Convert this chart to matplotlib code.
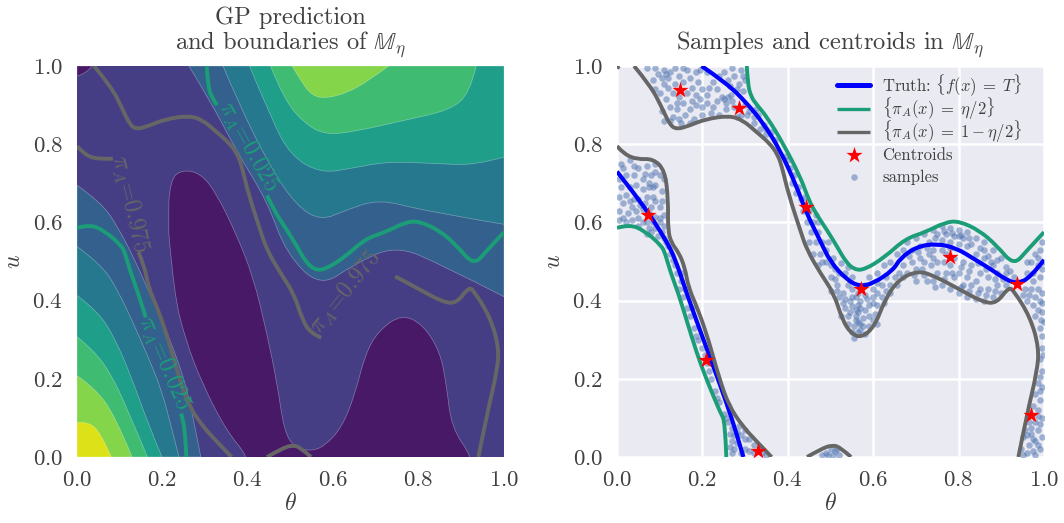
import matplotlib
matplotlib.use("Agg")
import matplotlib.pyplot as plt
import numpy as np
from matplotlib.path import Path
from matplotlib.patches import PathPatch

plt.rcParams['font.family'] = ['cmr10', 'DejaVu Serif']
plt.rcParams['mathtext.fontset'] = 'cm'
plt.rcParams['axes.formatter.use_mathtext'] = True
plt.rcParams['axes.unicode_minus'] = False

TEXT = "#404040"
GREEN = "#1b9e77"
GRAY = "#666666"

band_colors = ["#481967", "#453e85", "#34608d", "#26788e", "#1f9e89", "#40bc72", "#85d54a", "#dde218"]

# boundaries of the filled bands, lower left family (left edge to bottom edge)
low_2 = [(0, .695), (.056, .652), (.096, .588), (.136, .503), (.167, .426), (.199, .349), (.231, .263), (.259, .169), (.278, .067), (.29, 0)]
low_3 = [(0, .538), (.056, .494), (.096, .426), (.136, .332), (.167, .255), (.199, .169), (.223, .067), (.239, 0)]
low_4 = [(0, .413), (.048, .374), (.088, .306), (.128, .203), (.167, .084), (.199, 0)]
low_5 = [(0, .308), (.04, .272), (.08, .212), (.12, .118), (.165, 0)]
low_6 = [(0, .208), (.04, .178), (.088, .109), (.129, 0)]
low_7 = [(0, .088), (.025, .091), (.056, .062), (.08, 0)]

# upper right family (top edge to right edge)
up_2 = [(.262, 1), (.31, .915), (.38, .77), (.445, .655), (.49, .52), (.57, .434), (.65, .494), (.746, .541), (.85, .494), (1, .41)]
up_3 = [(.342, 1), (.374, .915), (.453, .74), (.516, .64), (.572, .605), (.627, .63), (.707, .66), (.81, .63), (1, .595)]
up_4 = [(.404, 1), (.453, .87), (.5, .77), (.572, .725), (.65, .74), (.73, .756), (.85, .75), (.93, .746), (1, .767)]
up_5 = [(.453, 1), (.485, .914), (.532, .854), (.58, .824), (.65, .832), (.77, .862), (.873, .887), (.92, .93), (.935, 1)]
up_6 = [(.504, 1), (.525, .96), (.55, .925), (.58, .917), (.63, .93), (.68, .96), (.73, 1)]

# dark blobs
dark_corner = [(0, .974), (.02, .98), (.036, 1)]
dark_blob = [(.215, .65), (.218, .71), (.247, .735), (.29, .725), (.326, .675), (.373, .57), (.413, .46), (.445, .315), (.469, .186), (.485, .067), (.509, .024), (.548, .015), (.58, .028), (.62, .075), (.651, .16), (.675, .263), (.706, .323), (.76, .365), (.81, .339), (.85, .27), (.865, .186), (.877, .075), (.925, 0),
             (.925, -.05), (.401, -.05), (.401, 0), (.35, .067), (.294, .186), (.255, .297), (.227, .417), (.215, .573)]

# decision boundaries, split where the left panel has an inline label
gray_a1 = [(.04, 1), (.08, .947), (.104, .896), (.124, .849), (.14, .838), (.168, .847), (.207, .864), (.262, .873), (.294, .862), (.326, .832), (.357, .803), (.377, .773), (.388, .735), (.401, .675), (.429, .58), (.445, .529), (.477, .469), (.508, .418), (.528, .35), (.548, .316), (.572, .305)]
gray_a2 = [(.603, .333), (.627, .401), (.658, .453), (.705, .477)]
gray_a3 = [(.745, .462), (.80, .43), (.857, .396), (.889, .393), (.917, .434), (.929, .426), (.968, .357), (.988, .28), (.984, .22), (.96, .109), (.94, 0)]
gray_b1 = [(0, .795), (.017, .774), (.048, .761), (.084, .763)]
gray_b2 = [(.112, .734), (.12, .657), (.119, .58), (.128, .546)]
gray_b3 = [(.144, .524), (.159, .485), (.167, .434), (.191, .374), (.215, .297), (.239, .203), (.262, .131), (.294, .079), (.326, .041), (.362, 0)]
gray_c = [(.445, 0), (.477, .02), (.504, .031), (.524, .024), (.548, 0)]
gray_d = [(0, .994), (.005, 1)]

green_a1 = [(.304, 1), (.306, .956), (.314, .921), (.328, .9)]
green_a2 = [(.351, .87), (.389, .802), (.429, .717)]
green_a3 = [(.445, .669), (.461, .631), (.492, .58), (.516, .537), (.536, .499), (.556, .479), (.58, .479), (.627, .511), (.675, .558), (.722, .575), (.77, .601), (.802, .603), (.849, .579), (.889, .541), (.929, .49), (.96, .528), (1, .575)]
green_b1 = [(0, .586), (.029, .595), (.064, .579), (.104, .541), (.113, .52), (.124, .477), (.144, .417), (.161, .357)]
green_b2 = [(.187, .265), (.21, .197)]
green_b3 = [(.243, .111), (.253, .091), (.256, 0)]

truth_a = [(.198, 1), (.257, .956), (.304, .905), (.343, .853), (.382, .785), (.421, .691), (.444, .623), (.475, .555), (.499, .5), (.538, .453), (.569, .436), (.6, .444), (.647, .478), (.663, .508), (.702, .538), (.749, .546), (.795, .534), (.834, .508), (.873, .482), (.912, .453), (.936, .444), (.967, .457), (1, .504)]
truth_b = [(0, .73), (.046, .666), (.085, .606), (.116, .551), (.136, .508), (.163, .419), (.194, .325), (.226, .231), (.257, .137), (.28, .06), (.296, 0)]

centroid_theta = [.148, .286, .073, .443, .572, .78, .937, .208, .33, .97]
centroid_u = [.939, .893, .619, .64, .43, .511, .442, .248, .015, .107]

samples_top = [(.07, .995), (.09, .995), (.11, .99), (.115, .98), (.135, .995), (.155, .995), (.165, .99), (.105, .97), (.12, .945), (.155, .96), (.175, .945), (.085, .965), (.185, .90), (.17, .89), (.14, .89), (.13, .87), (.16, .875), (.145, .92), (.115, .915), (.125, .895), (.2, .94), (.225, .96), (.25, .985), (.27, .995), (.29, .99), (.21, .925), (.225, .895), (.22, .88), (.245, .92), (.25, .915), (.28, .94), (.295, .935), (.285, .955), (.265, .95), (.235, .94), (.2, .875), (.255, .89), (.305, .875), (.32, .855), (.335, .84), (.35, .825), (.31, .885), (.09, .94), (.1, .93), (.195, .915), (.21, .905), (.24, .875), (.27, .91), (.3, .9), (.33, .875), (.345, .85), (.36, .83), (.37, .81), (.105, .885), (.11, .86), (.15, .855), (.18, .865),
               (.095, .98), (.125, .985), (.12, .97), (.145, .975), (.17, .97), (.185, .985), (.19, .96), (.135, .955), (.11, .955), (.165, .93), (.185, .925), (.13, .93), (.155, .905), (.14, .905), (.175, .91), (.2, .895), (.235, .91), (.255, .905), (.26, .92), (.268, .925), (.275, .895), (.29, .875), (.215, .945), (.24, .975), (.26, .965), (.3, .965), (.295, .975), (.275, .975), (.21, .985), (.195, .99), (.17, .855), (.145, .865), (.125, .86), (.28, .87), (.32, .87), (.325, .89), (.35, .84)]
samples_left = [(.01, .75), (.03, .76), (.05, .74), (.07, .745), (.09, .75), (.1, .72), (.08, .72), (.06, .71), (.04, .72), (.02, .72), (.01, .69), (.03, .69), (.06, .685), (.075, .69), (.09, .695), (.105, .68), (.085, .665), (.07, .665), (.05, .66), (.03, .655), (.015, .65), (.005, .63), (.025, .625), (.045, .63), (.06, .635), (.08, .64), (.1, .64), (.11, .62), (.09, .615), (.07, .6), (.05, .61), (.035, .605), (.015, .61), (.05, .59), (.075, .585), (.09, .585), (.1, .6), (.11, .59), (.11, .56), (.095, .565), (.07, .57), (.12, .54),
                (.005, .71), (.015, .74), (.04, .745), (.065, .725), (.09, .73), (.11, .71), (.075, .70), (.085, .69), (.045, .695), (.02, .67), (.035, .64), (.055, .645), (.065, .65), (.04, .66), (.005, .665), (.09, .655), (.105, .655), (.075, .625), (.1, .61), (.02, .6), (.005, .605), (.06, .6), (.085, .6), (.08, .575), (.105, .575), (.115, .55)]
samples_strip = [(.125, .52), (.135, .49), (.14, .47), (.15, .45), (.145, .43), (.155, .41), (.165, .38), (.17, .36), (.18, .33), (.19, .30), (.2, .28), (.205, .26), (.215, .22), (.22, .2), (.23, .17), (.24, .14), (.25, .11), (.26, .09), (.13, .505), (.15, .47), (.16, .43), (.175, .38), (.185, .31), (.21, .24), (.235, .15), (.255, .1)]
samples_foot = [(.265, .06), (.27, .04), (.275, .02), (.28, .035), (.29, .055), (.27, .075), (.285, .08), (.3, .07), (.31, .045), (.32, .03), (.3, .02), (.31, .015), (.34, .01), (.335, .025), (.29, .01), (.28, .065), (.35, .005), (.265, .025), (.275, .055), (.3, .045), (.32, .01), (.27, .01)]
samples_center = [(.395, .77), (.405, .74), (.41, .70), (.42, .675), (.43, .66), (.435, .63), (.445, .6), (.46, .6), (.455, .575), (.47, .575), (.465, .55), (.48, .55), (.475, .52), (.49, .53), (.49, .5), (.505, .51), (.51, .48), (.525, .495), (.535, .47), (.55, .46),
                  (.4, .76), (.415, .72), (.425, .69), (.44, .665), (.45, .63), (.465, .62), (.47, .6), (.45, .55), (.46, .52), (.47, .49), (.48, .5), (.495, .55), (.5, .49), (.52, .47), (.51, .455), (.54, .485)]
samples_lobe = [(.5, .46), (.515, .44), (.5, .425), (.52, .41), (.53, .42), (.545, .4), (.56, .41), (.58, .415), (.6, .41), (.62, .41), (.61, .39), (.59, .39), (.57, .38), (.55, .385), (.535, .38), (.525, .36), (.54, .36), (.56, .36), (.575, .355), (.59, .36), (.605, .365), (.61, .34), (.59, .335), (.57, .34), (.555, .335), (.54, .34), (.55, .32), (.565, .32), (.58, .315), (.555, .305), (.565, .345), (.57, .325), (.56, .375), (.58, .44), (.6, .43), (.62, .44), (.64, .44), (.65, .46), (.63, .46), (.66, .47), (.63, .425), (.54, .44), (.55, .43),
                (.515, .425), (.535, .405), (.55, .41), (.57, .4), (.585, .405), (.6, .395), (.565, .37), (.58, .375), (.545, .37), (.56, .35), (.575, .335), (.6, .35), (.53, .395), (.565, .39), (.61, .42), (.625, .395), (.64, .42), (.655, .44), (.67, .46), (.61, .445), (.565, .42)]
samples_hump = [(.59, .46), (.61, .47), (.625, .49), (.64, .5), (.655, .52), (.67, .53), (.68, .55), (.7, .56), (.72, .57), (.74, .58), (.76, .59), (.78, .585), (.8, .58), (.82, .575), (.84, .56), (.86, .55), (.88, .53), (.9, .51),
                (.68, .47), (.7, .45), (.72, .465), (.74, .45), (.76, .44), (.78, .43), (.8, .42), (.82, .41), (.84, .405), (.86, .4), (.88, .41), (.9, .42), (.91, .44),
                (.67, .49), (.69, .5), (.71, .51), (.73, .52), (.75, .5), (.77, .52), (.79, .51), (.81, .5), (.83, .49), (.85, .47), (.87, .46), (.89, .47), (.91, .47), (.93, .46), (.7, .48), (.72, .5), (.74, .53), (.76, .555), (.78, .55), (.8, .545), (.82, .54), (.84, .52), (.86, .51), (.88, .49), (.75, .47), (.77, .47), (.79, .46), (.81, .44), (.83, .44), (.85, .43), (.87, .43), (.89, .44), (.78, .49), (.8, .47), (.82, .46), (.84, .45), (.69, .53), (.71, .54), (.73, .55), (.75, .57), (.77, .57), (.79, .565), (.81, .56), (.83, .545), (.85, .535), (.87, .515), (.89, .505), (.91, .485), (.92, .475),
                (.685, .515), (.705, .525), (.725, .535), (.745, .56), (.765, .578), (.785, .572), (.805, .567), (.825, .56), (.765, .5), (.785, .47), (.805, .485), (.825, .475), (.845, .495), (.865, .48), (.885, .455), (.905, .455), (.735, .49), (.715, .48), (.695, .465), (.725, .45), (.745, .435), (.765, .455), (.805, .435), (.825, .425), (.845, .42), (.865, .415), (.885, .425), (.8, .565), (.78, .535), (.76, .53), (.74, .51), (.86, .53), (.875, .5)]
samples_right = [(.97, .5), (.98, .52), (.99, .53), (.995, .55), (.985, .49), (.995, .48), (.96, .47), (.975, .47), (.99, .46), (.955, .43), (.97, .43), (.985, .43), (.995, .42), (.96, .40), (.975, .39), (.99, .4), (.98, .36), (.995, .37), (.99, .33), (1.0, .345), (.995, .31), (.995, .28), (.99, .25), (.995, .22), (.985, .19), (.995, .18), (.98, .16), (.99, .145), (.975, .13), (.985, .12), (.965, .09), (.98, .09), (.995, .1), (.955, .07), (.97, .06), (.985, .07), (.95, .05), (.965, .03), (.98, .04), (.995, .05), (.945, .02), (.96, .01), (.975, .015), (.99, .02), (.95, .005), (.98, .005), (.97, .075), (.985, .03),
                 (.965, .415), (.98, .41), (.995, .395), (.985, .375), (.95, .415), (.975, .45), (.985, .51), (.96, .5), (.998, .5), (.993, .35), (.998, .26), (.99, .205), (.99, .17), (.985, .105), (.96, .055), (.975, .045), (.99, .085)]
samples_bump = [(.49, .01), (.5, .02), (.51, .015), (.52, .005), (.505, .005), (.48, .005), (.495, .005), (.515, .02)]

ticks = [0.0, 0.2, 0.4, 0.6, 0.8, 1.0]

legend_labels = [r"Truth: $\{f(x)\;=\;T\}$", r"$\{\pi_A(x)\;=\;\eta/2\}$", r"$\{\pi_A(x)\;=\;1-\eta/2\}$", "Centroids", "samples"]
legend_rows = [.951, .89, .831, .772, .716]


#Build a path that rounds the corners of a list of points, optional straight corners closing it.
def curvePath(points, corners=None, closed=False):
    pts = np.array(points, dtype=float)
    verts = [pts[0]]
    codes = [Path.MOVETO]
    for i in range(1, len(pts) - 1):
        end = pts[i + 1] if i == len(pts) - 2 else (pts[i] + pts[i + 1]) / 2
        verts += [pts[i], end]
        codes += [Path.CURVE3, Path.CURVE3]
    if len(pts) == 2:
        verts.append(pts[1])
        codes.append(Path.LINETO)
    if corners:
        for c in corners:
            verts.append(c)
            codes.append(Path.LINETO)
    if closed:
        verts.append(pts[0])
        codes.append(Path.CLOSEPOLY)
    return Path(verts, codes)


def drawLine(ax, points, color, lw, zorder=3):
    ax.add_patch(PathPatch(curvePath(points), facecolor="none", edgecolor=color, lw=lw, zorder=zorder, capstyle="butt", joinstyle="round"))


def drawBand(ax, points, color, corners):
    ax.add_patch(PathPatch(curvePath(points, corners, True), facecolor=color, edgecolor=(1, 1, 1, .35), lw=.5, zorder=1))


def setupAxes(ax, title):
    ax.set_xlim(0, 1)
    ax.set_ylim(0, 1)
    ax.set_xticks(ticks)
    ax.set_yticks(ticks)
    ax.tick_params(length=0, labelsize=16.5, colors=TEXT, pad=10)
    ax.set_xlabel(r"$\theta$", fontsize=17, color=TEXT, labelpad=2)
    ax.set_ylabel(r"$u$", fontsize=17, color=TEXT, labelpad=5)
    ax.set_title(title, fontsize=17.6, color=TEXT, pad=12, linespacing=1.0)
    for s in ax.spines.values():
        s.set_visible(False)


fig = plt.figure(figsize=(10.64, 5.23), dpi=100)
axLeft = fig.add_axes([77 / 1064, 66 / 523, 427 / 1064, 391 / 523])
axRight = fig.add_axes([617 / 1064, 66 / 523, 427 / 1064, 391 / 523])

# left panel
axLeft.set_facecolor(band_colors[1])
setupAxes(axLeft, "GP prediction\n" + r"and boundaries of $\mathbb{M}_\eta$")
for boundary, color in zip([low_2, low_3, low_4, low_5, low_6, low_7], band_colors[2:]):
    drawBand(axLeft, boundary, color, [(0, 0)])
for boundary, color in zip([up_2, up_3, up_4], band_colors[2:5]):
    drawBand(axLeft, boundary, color, [(1, 1)])
drawBand(axLeft, up_5, band_colors[5], [])
drawBand(axLeft, up_6, band_colors[6], [])
drawBand(axLeft, dark_corner, band_colors[0], [(0, 1)])
drawBand(axLeft, dark_blob, band_colors[0], [])

for segment in [gray_a1, gray_a3, gray_b1, gray_b3, gray_c]:
    drawLine(axLeft, segment, GRAY, 2.8)
for segment in [green_a1, green_a3, green_b1, green_b3]:
    drawLine(axLeft, segment, GREEN, 2.8)

label975 = r"$\pi_A$=0.975"
label025 = r"$\pi_A$=0.025"
axLeft.text(.124, .648, label975, color=GRAY, fontsize=17, rotation=-77, ha="center", va="center", zorder=4)
axLeft.text(.629, .421, label975, color=GRAY, fontsize=17, rotation=51, ha="center", va="center", zorder=4)
axLeft.text(.401, .793, label025, color=GREEN, fontsize=17, rotation=-61, ha="center", va="center", zorder=4)
axLeft.text(.205, .239, label025, color=GREEN, fontsize=17, rotation=-67, ha="center", va="center", zorder=4)

# right panel
axRight.set_facecolor("#eaeaf2")
setupAxes(axRight, r"Samples and centroids in $\mathbb{M}_\eta$")
axRight.grid(True, color="white", lw=1.8, zorder=0)
axRight.set_axisbelow(True)

samples = np.array(samples_top + samples_left + samples_strip + samples_foot + samples_center + samples_lobe + samples_hump + samples_right + samples_bump)
axRight.scatter(samples[:, 0], samples[:, 1], s=22, color="#4c72b0", alpha=.5, linewidths=0, zorder=2, clip_on=True)

drawLine(axRight, truth_a, "blue", 3, 3)
drawLine(axRight, truth_b, "blue", 3, 3)
drawLine(axRight, green_a1 + green_a2 + green_a3, GREEN, 2.8, 3.1)
drawLine(axRight, green_b1 + green_b2 + green_b3, GREEN, 2.8, 3.1)
drawLine(axRight, gray_a1 + gray_a2 + gray_a3, GRAY, 2.8, 3.2)
drawLine(axRight, gray_b1 + gray_b2 + gray_b3, GRAY, 2.8, 3.2)
drawLine(axRight, gray_c, GRAY, 2.8, 3.2)
drawLine(axRight, gray_d, GRAY, 2.8, 3.2)
axRight.scatter(centroid_theta, centroid_u, marker="*", s=150, color="red", linewidths=0, zorder=5)

# legend placed by hand, the math rows would otherwise get uneven heights
handle_x = [.515, .593]
mark_x = .554
text_x = .621
lt = axRight.transAxes
axRight.plot(handle_x, [legend_rows[0]] * 2, color="blue", lw=3.6, transform=lt, zorder=6, solid_capstyle="round")
axRight.plot(handle_x, [legend_rows[1]] * 2, color=GREEN, lw=2.4, transform=lt, zorder=6, solid_capstyle="butt")
axRight.plot(handle_x, [legend_rows[2]] * 2, color=GRAY, lw=2.4, transform=lt, zorder=6, solid_capstyle="butt")
axRight.scatter([mark_x], [legend_rows[3]], marker="*", s=150, color="red", linewidths=0, transform=lt, zorder=6)
axRight.scatter([mark_x], [legend_rows[4]], s=22, color="#4c72b0", alpha=.5, linewidths=0, transform=lt, zorder=6)
for label, row in zip(legend_labels, legend_rows):
    axRight.text(text_x, row, label, fontsize=12, color=TEXT, transform=lt, va="center", ha="left", zorder=6)

fig.savefig("out.png", dpi=100)
